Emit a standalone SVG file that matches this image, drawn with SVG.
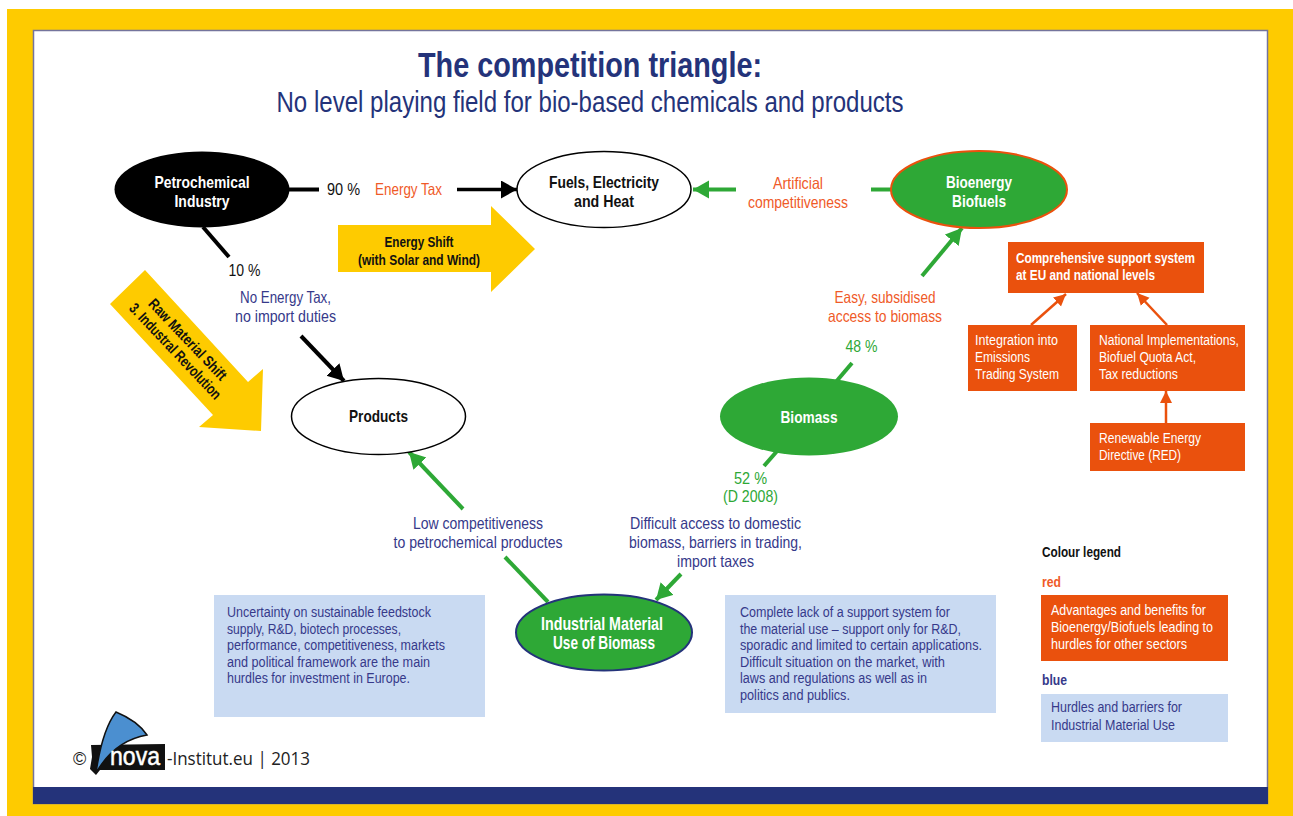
<svg xmlns="http://www.w3.org/2000/svg" width="1293" height="816" viewBox="0 0 1293 816">
<style>
text{font-family:"Liberation Sans",Arial,sans-serif;font-size:16.500px;text-anchor:middle}
.l{text-anchor:start}
.b{font-weight:700}
.w{fill:#fff}
.k{fill:#111}
.n{fill:#36398a}
.o{fill:#ef5a28}
.g{fill:#2ea836}
.s{font-size:15.500px}
.r{fill:#ea510d}
.bl{fill:#c9daf2}
.y{fill:#fecb00}
.ck{stroke:#000;stroke-width:4;fill:none}
.cg{stroke:#2ea836;stroke-width:4;fill:none}
.co{stroke:#ea510d;stroke-width:2.500;fill:none}
</style>
<defs>
<marker id="ak" markerUnits="userSpaceOnUse" markerWidth="18" markerHeight="20" refX="16" refY="9" orient="auto"><path d="M0 0L16 9L0 18Z" fill="#000"/></marker>
<marker id="ag" markerUnits="userSpaceOnUse" markerWidth="18" markerHeight="20" refX="16" refY="9" orient="auto"><path d="M0 0L16 9L0 18Z" fill="#2ea836"/></marker>
<marker id="ao" markerUnits="userSpaceOnUse" markerWidth="14" markerHeight="14" refX="12" refY="6" orient="auto"><path d="M0 0L12 6L0 12Z" fill="#ea510d"/></marker>
</defs>
<rect width="1293" height="816" fill="#fff"/>
<rect class="y" x="7" y="9" width="1286" height="807"/>
<rect x="33.500" y="30.500" width="1234" height="773" fill="#fff" stroke="#74749c" stroke-width="1.500"/>
<rect x="33" y="787" width="1235" height="17" fill="#24337a"/>

<g id="title">
<text class="b" x="590" y="77" fill="#24337a" style="font-size:35px" textLength="344" lengthAdjust="spacingAndGlyphs">The competition triangle:</text>
<text x="590" y="112" fill="#24337a" style="font-size:29px" textLength="627" lengthAdjust="spacingAndGlyphs">No level playing field for bio-based chemicals and products</text>
</g>

<g id="shift-arrows">
<path class="y" d="M338 225H491V206L535 249L491 292V272H338Z"/>
<path class="y" d="M110 304L145 270L248 382L263 369L261 431L199 427L213 415Z"/>
<text class="b k" x="419" y="247" textLength="69" lengthAdjust="spacingAndGlyphs" style="font-size:15px">Energy Shift</text>
<text class="b k" x="419" y="265" textLength="122" lengthAdjust="spacingAndGlyphs" style="font-size:15px">(with Solar and Wind)</text>
<g transform="translate(184 343) rotate(46.500)">
<text class="b k" y="0" textLength="106" lengthAdjust="spacingAndGlyphs" style="font-size:15px">Raw Material Shift</text>
<text class="b k" y="17" textLength="126" lengthAdjust="spacingAndGlyphs" style="font-size:15px">3. Industral Revolution</text>
</g>
</g>

<g id="connectors">
<path class="ck" d="M288 189.500H319"/>
<path class="ck" d="M457 189.500H517" marker-end="url(#ak)" style="stroke-width:3.500"/>
<path class="ck" d="M203 227L229 257"/>
<path class="ck" d="M301 336L344 381" marker-end="url(#ak)"/>
<path class="cg" d="M736 189.500H693" marker-end="url(#ag)"/>
<path class="cg" d="M871 189.500H891"/>
<path class="cg" d="M922 276L962 228" marker-end="url(#ag)"/>
<path class="cg" d="M852 363L835 383"/>
<path class="cg" d="M778 450L764 466"/>
<path class="cg" d="M463 509L409 452" marker-end="url(#ag)"/>
<path class="cg" d="M505 557L548 602"/>
<path class="cg" d="M681 574L656 600" marker-end="url(#ag)"/>
<path class="co" d="M1031 325L1066 294" marker-end="url(#ao)"/>
<path class="co" d="M1167 325L1137 293" marker-end="url(#ao)"/>
<path class="co" d="M1166 423V391" marker-end="url(#ao)"/>
</g>

<g id="petrochemical">
<ellipse cx="202" cy="189.500" rx="87.500" ry="38" fill="#000"/>
<text class="b w" x="202" y="188" textLength="95" lengthAdjust="spacingAndGlyphs">Petrochemical</text>
<text class="b w" x="202" y="207" textLength="55" lengthAdjust="spacingAndGlyphs">Industry</text>
</g>
<g id="fuels">
<ellipse cx="604" cy="189.500" rx="87" ry="38" fill="#fff" stroke="#000" stroke-width="1.500"/>
<text class="b k" x="604" y="188" textLength="110" lengthAdjust="spacingAndGlyphs">Fuels, Electricity</text>
<text class="b k" x="604" y="207" textLength="60" lengthAdjust="spacingAndGlyphs">and Heat</text>
</g>
<g id="bioenergy">
<ellipse cx="979" cy="189.500" rx="88" ry="38.500" fill="#2ea836" stroke="#ea510d" stroke-width="2"/>
<text class="b w" x="979" y="188" textLength="66" lengthAdjust="spacingAndGlyphs">Bioenergy</text>
<text class="b w" x="979" y="207" textLength="54" lengthAdjust="spacingAndGlyphs">Biofuels</text>
</g>
<g id="products">
<ellipse cx="378.500" cy="416.500" rx="87" ry="38" fill="#fff" stroke="#000" stroke-width="1.500"/>
<text class="b k" x="378.500" y="422" textLength="59" lengthAdjust="spacingAndGlyphs">Products</text>
</g>
<g id="biomass">
<ellipse cx="809" cy="416.500" rx="89" ry="39" fill="#2ea836"/>
<text class="b w" x="809" y="423" textLength="57" lengthAdjust="spacingAndGlyphs">Biomass</text>
</g>
<g id="industrial">
<ellipse cx="604" cy="632.500" rx="88" ry="38" fill="#2ea836" stroke="#24337a" stroke-width="2"/>
<text class="b w" x="602" y="630" style="font-size:17.500px" textLength="122" lengthAdjust="spacingAndGlyphs">Industrial Material</text>
<text class="b w" x="604" y="649" style="font-size:17.500px" textLength="102" lengthAdjust="spacingAndGlyphs">Use of Biomass</text>
</g>

<g id="labels">
<text class="k" x="343.500" y="195" textLength="33" lengthAdjust="spacingAndGlyphs">90 %</text>
<text class="o" x="408.500" y="195" textLength="67" lengthAdjust="spacingAndGlyphs">Energy Tax</text>
<text class="k" x="244.500" y="276" textLength="32" lengthAdjust="spacingAndGlyphs">10 %</text>
<text class="n" x="285.500" y="303" textLength="91" lengthAdjust="spacingAndGlyphs">No Energy Tax,</text>
<text class="n" x="285.500" y="322" textLength="101" lengthAdjust="spacingAndGlyphs">no import duties</text>
<text class="o" x="798" y="189" textLength="50" lengthAdjust="spacingAndGlyphs">Artificial</text>
<text class="o" x="798" y="208" textLength="100" lengthAdjust="spacingAndGlyphs">competitiveness</text>
<text class="o" x="885" y="303" textLength="101" lengthAdjust="spacingAndGlyphs">Easy, subsidised</text>
<text class="o" x="885" y="322" textLength="114" lengthAdjust="spacingAndGlyphs">access to biomass</text>
<text class="g" x="861.500" y="352" textLength="32" lengthAdjust="spacingAndGlyphs">48 %</text>
<text class="g" x="750.500" y="484" textLength="33" lengthAdjust="spacingAndGlyphs">52 %</text>
<text class="g" x="750.500" y="502" textLength="55" lengthAdjust="spacingAndGlyphs">(D 2008)</text>
<text class="n" x="478" y="529" textLength="130" lengthAdjust="spacingAndGlyphs">Low competitiveness</text>
<text class="n" x="478" y="548" textLength="169" lengthAdjust="spacingAndGlyphs">to petrochemical productes</text>
<text class="n" x="715.500" y="529" textLength="171" lengthAdjust="spacingAndGlyphs">Difficult access to domestic</text>
<text class="n" x="715.500" y="548" textLength="173" lengthAdjust="spacingAndGlyphs">biomass, barriers in trading,</text>
<text class="n" x="715.500" y="567" textLength="77" lengthAdjust="spacingAndGlyphs">import taxes</text>
</g>

<g id="support-system">
<rect class="r" x="1008" y="242" width="196" height="51"/>
<text class="l b w s" x="1016" y="263" textLength="179" lengthAdjust="spacingAndGlyphs">Comprehensive support system</text>
<text class="l b w s" x="1016" y="280" textLength="139" lengthAdjust="spacingAndGlyphs">at EU and national levels</text>
</g>
<g id="emissions">
<rect class="r" x="968" y="325" width="109" height="66"/>
<text class="l w s" x="975" y="345" textLength="83" lengthAdjust="spacingAndGlyphs">Integration into</text>
<text class="l w s" x="975" y="362" textLength="55" lengthAdjust="spacingAndGlyphs">Emissions</text>
<text class="l w s" x="975" y="379" textLength="84" lengthAdjust="spacingAndGlyphs">Trading System</text>
</g>
<g id="national">
<rect class="r" x="1090" y="325" width="155" height="66"/>
<text class="l w s" x="1099" y="345" textLength="140" lengthAdjust="spacingAndGlyphs">National Implementations,</text>
<text class="l w s" x="1099" y="362" textLength="97" lengthAdjust="spacingAndGlyphs">Biofuel Quota Act,</text>
<text class="l w s" x="1099" y="379" textLength="79" lengthAdjust="spacingAndGlyphs">Tax reductions</text>
</g>
<g id="red-directive">
<rect class="r" x="1090" y="423" width="155" height="48"/>
<text class="l w s" x="1099" y="443" textLength="102" lengthAdjust="spacingAndGlyphs">Renewable Energy</text>
<text class="l w s" x="1099" y="460" textLength="82" lengthAdjust="spacingAndGlyphs">Directive (RED)</text>
</g>

<g id="uncertainty">
<rect class="bl" x="214" y="595" width="271" height="122"/>
<text class="l n s" x="227" y="617" textLength="204" lengthAdjust="spacingAndGlyphs">Uncertainty on sustainable feedstock</text>
<text class="l n s" x="227" y="634" textLength="174" lengthAdjust="spacingAndGlyphs">supply, R&amp;D, biotech processes,</text>
<text class="l n s" x="227" y="650" textLength="218" lengthAdjust="spacingAndGlyphs">performance, competitiveness, markets</text>
<text class="l n s" x="227" y="667" textLength="203" lengthAdjust="spacingAndGlyphs">and political framework are the main</text>
<text class="l n s" x="227" y="683" textLength="183" lengthAdjust="spacingAndGlyphs">hurdles for investment in Europe.</text>
</g>
<g id="lack-of-support">
<rect class="bl" x="725" y="595" width="271" height="118"/>
<text class="l n s" x="740" y="617" textLength="210" lengthAdjust="spacingAndGlyphs">Complete lack of a support system for</text>
<text class="l n s" x="740" y="634" textLength="221" lengthAdjust="spacingAndGlyphs">the material use – support only for R&amp;D,</text>
<text class="l n s" x="740" y="650" textLength="242" lengthAdjust="spacingAndGlyphs">sporadic and limited to certain applications.</text>
<text class="l n s" x="740" y="667" textLength="205" lengthAdjust="spacingAndGlyphs">Difficult situation on the market, with</text>
<text class="l n s" x="740" y="683" textLength="187" lengthAdjust="spacingAndGlyphs">laws and regulations as well as in</text>
<text class="l n s" x="740" y="700" textLength="110" lengthAdjust="spacingAndGlyphs">politics and publics.</text>
</g>

<g id="legend">
<text class="l b k s" x="1042" y="557" textLength="79" lengthAdjust="spacingAndGlyphs">Colour legend</text>
<text class="l b o s" x="1042" y="587" textLength="19" lengthAdjust="spacingAndGlyphs">red</text>
<rect class="r" x="1041" y="595" width="187" height="66"/>
<text class="l w s" x="1051" y="615" textLength="155" lengthAdjust="spacingAndGlyphs">Advantages and benefits for</text>
<text class="l w s" x="1051" y="632" textLength="162" lengthAdjust="spacingAndGlyphs">Bioenergy/Biofuels leading to</text>
<text class="l w s" x="1051" y="649" textLength="136" lengthAdjust="spacingAndGlyphs">hurdles for other sectors</text>
<text class="l b n s" x="1042" y="685" textLength="25" lengthAdjust="spacingAndGlyphs">blue</text>
<rect class="bl" x="1041" y="694" width="187" height="48"/>
<text class="l n s" x="1051" y="712" textLength="131" lengthAdjust="spacingAndGlyphs">Hurdles and barriers for</text>
<text class="l n s" x="1051" y="730" textLength="124" lengthAdjust="spacingAndGlyphs">Industrial Material Use</text>
</g>

<g id="logo">
<path d="M91 745L165 744V770H100L96 775L90 769L92 757Z" fill="#111"/>
<path d="M96 773C100 745 106 725 116 712C133 719 141 726 147 735C130 738 110 748 96 773Z" fill="#4b8fd0" stroke="#111" stroke-width="1.500"/>
<text class="w" x="135" y="765" style="font-size:25px;stroke:#fff;stroke-width:.5px" textLength="50" lengthAdjust="spacingAndGlyphs">nova</text>
<text class="l" x="73" y="765" fill="#222" style="font-size:18px">©</text>
<text class="l" x="167" y="765" fill="#222" style="font-family:'Open Sans',sans-serif;font-size:18px" textLength="143" lengthAdjust="spacingAndGlyphs">-Institut.eu | 2013</text>
</g>
</svg>
